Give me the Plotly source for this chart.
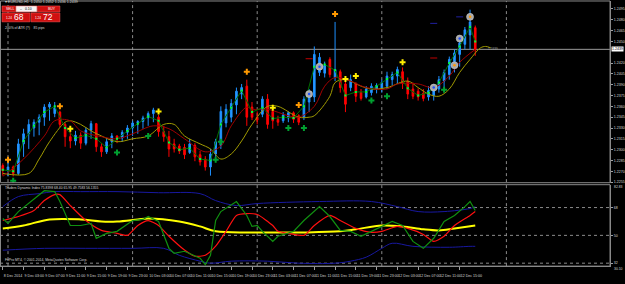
import plotly.graph_objects as go

W, H = 625, 284
def px(x): return x / W
def py(y): return 1 - y / H

# ---------------- data ----------------
bars = list(range(92))
open_ = [1.2278,1.2271,1.2276,1.2267,1.2308,1.2322,1.2330,1.2338,1.2345,1.2359,
         1.2350,1.2352,1.2335,1.2318,1.2312,1.2320,1.2309,1.2327,1.2336,1.2304,
         1.2297,1.2311,1.2319,1.2316,1.2324,1.2330,1.2337,1.2339,1.2344,1.2350,
         1.2345,1.2325,1.2318,1.2308,1.2305,1.2303,1.2296,1.2306,1.2293,1.2287,
         1.2276,1.2294,1.2306,1.2337,1.2345,1.2362,1.2377,1.2388,1.2359,1.2345,
         1.2349,1.2370,1.2353,1.2342,1.2340,1.2344,1.2351,1.2347,1.2345,1.2366,
         1.2373,1.2407,1.2406,1.2425,1.2400,1.2408,1.2391,1.2386,1.2392,1.2379,
         1.2373,1.2379,1.2384,1.2385,1.2388,1.2397,1.2402,1.2408,1.2395,1.2384,
         1.2381,1.2378,1.2373,1.2375,1.2384,1.2395,1.2404,1.2422,1.2432,1.2446,
         1.2459,1.2469]
high = [1.2281,1.2283,1.2278,1.2315,1.2329,1.2342,1.2342,1.2349,1.2363,1.2366,
        1.2366,1.2354,1.2337,1.2329,1.2326,1.2324,1.2331,1.2340,1.2337,1.2309,
        1.2316,1.2323,1.2320,1.2327,1.2334,1.2340,1.2341,1.2347,1.2353,1.2358,
        1.2348,1.2333,1.2326,1.2315,1.2308,1.2308,1.2315,1.2309,1.2298,1.2291,
        1.2301,1.2315,1.2360,1.2363,1.2370,1.2386,1.2391,1.2397,1.2366,1.2353,
        1.2374,1.2377,1.2356,1.2347,1.2352,1.2353,1.2353,1.2349,1.2374,1.2384,
        1.2443,1.2434,1.2422,1.2428,1.2477,1.2411,1.2400,1.2404,1.2393,1.2384,
        1.2388,1.2392,1.2392,1.2397,1.2408,1.2408,1.2415,1.2414,1.2400,1.2393,
        1.2385,1.2384,1.2388,1.2391,1.2402,1.2411,1.2429,1.2439,1.2452,1.2470,
        1.2494,1.2472]
low = [1.2264,1.2263,1.2263,1.2265,1.2290,1.2301,1.2318,1.2320,1.2333,1.2340,
       1.2345,1.2331,1.2304,1.2302,1.2306,1.2301,1.2306,1.2315,1.2297,1.2290,
       1.2294,1.2302,1.2309,1.2311,1.2315,1.2319,1.2322,1.2329,1.2333,1.2338,
       1.2318,1.2311,1.2290,1.2296,1.2294,1.2287,1.2294,1.2284,1.2278,1.2271,
       1.2264,1.2290,1.2301,1.2331,1.2338,1.2349,1.2370,1.2333,1.2341,1.2335,
       1.2345,1.2329,1.2329,1.2333,1.2337,1.2338,1.2337,1.2334,1.2341,1.2352,
       1.2366,1.2402,1.2400,1.2400,1.2395,1.2379,1.2352,1.2381,1.2366,1.2368,
       1.2371,1.2375,1.2378,1.2379,1.2384,1.2389,1.2391,1.2384,1.2370,1.2370,
       1.2368,1.2367,1.2368,1.2368,1.2379,1.2386,1.2397,1.2407,1.2415,1.2439,
       1.2439,1.2430]
close = [1.2271,1.2276,1.2267,1.2308,1.2322,1.2335,1.2338,1.2345,1.2359,1.2363,
         1.2358,1.2335,1.2318,1.2312,1.2320,1.2309,1.2327,1.2336,1.2304,1.2297,
         1.2311,1.2319,1.2316,1.2324,1.2330,1.2337,1.2339,1.2344,1.2350,1.2355,
         1.2325,1.2318,1.2301,1.2301,1.2298,1.2293,1.2308,1.2290,1.2283,1.2276,
         1.2294,1.2311,1.2353,1.2356,1.2364,1.2381,1.2386,1.2345,1.2345,1.2341,
         1.2370,1.2335,1.2340,1.2338,1.2348,1.2351,1.2342,1.2338,1.2370,1.2379,
         1.2432,1.2428,1.2417,1.2404,1.2411,1.2386,1.2363,1.2397,1.2374,1.2371,
         1.2384,1.2388,1.2389,1.2393,1.2402,1.2404,1.2411,1.2392,1.2377,1.2374,
         1.2373,1.2371,1.2382,1.2386,1.2397,1.2407,1.2425,1.2434,1.2448,1.2466,
         1.2477,1.2439]

red_ma_x = [0,4,8,10,13,15,19,22,25,29,32,35,39,42,44,47,48,51,55,57,60,62,64,67,70,74,76,80,83,86,88,91]
red_ma_y = [1.2263,1.2287,1.2319,1.2340,1.2340,1.2326,1.2318,1.2315,1.2322,1.2333,
            1.2329,1.2315,1.2297,1.2305,1.2333,1.2359,1.2356,1.2356,1.2347,1.2345,
            1.2360,1.2388,1.2400,1.2395,1.2386,1.2384,1.2391,1.2391,1.2386,1.2402,
            1.2421,1.2439]
olive_x = [0,5,7,9,12,13,15,17,19,22,25,28,31,33,35,38,40,42,44,46,48,51,53,57,59,
           60,63,64,66,69,71,74,78,80,82,84,86,88,90,92,93,94]
olive_y = [1.2267,1.2267,1.2287,1.2311,1.2338,1.2340,1.2335,1.2326,1.2319,1.2311,
           1.2315,1.2319,1.2335,1.2335,1.2319,1.2308,1.2301,1.2287,1.2294,1.2312,
           1.2335,1.2360,1.2360,1.2345,1.2345,1.2347,1.2374,1.2393,1.2397,1.2388,
           1.2384,1.2386,1.2395,1.2386,1.2377,1.2374,1.2384,1.2407,1.2425,1.2441,
           1.2443,1.2441]
green_ma_x = list(range(0, 91, 2)) + [91]
green_ma_y = [1.2272,1.2270,1.2312,1.2333,1.2352,1.2360,1.2330,1.2316,1.2320,1.2315,
              1.2303,1.2315,1.2326,1.2336,1.2346,1.2340,1.2310,1.2300,1.2302,1.2287,
              1.2285,1.2335,1.2358,1.2382,1.2352,1.2358,1.2343,1.2345,1.2344,1.2360,
              1.2415,1.2418,1.2410,1.2375,1.2380,1.2380,1.2388,1.2398,1.2407,1.2385,
              1.2375,1.2379,1.2393,1.2420,1.2443,1.2470,1.2450]

orange_x = [1, 11, 47, 57, 64]
orange_y = [1.2286, 1.2360, 1.2408, 1.2362, 1.2488]
yellow_x = [13, 30, 52, 66, 68, 77]
yellow_y = [1.2329, 1.2353, 1.2358, 1.2398, 1.2402, 1.2421]
green_sig_x = [2, 22, 28, 41, 42, 55, 58, 71, 74, 85]
green_sig_y = [1.2257, 1.2296, 1.2319, 1.2286, 1.2311, 1.2330, 1.2330, 1.2368, 1.2374, 1.2383]
circle_x = [59, 61, 83, 87, 88, 90]
circle_y = [1.2377, 1.2415, 1.2386, 1.2417, 1.2454, 1.2484]
circle_core = ["#1E50FF", "#1E50FF", "#1E50FF", "#FF9900", "#1E50FF", "#FF9900"]
dash_red_x = [59, 83]
dash_red_y = [1.2426, 1.2427]
dash_navy_x = [83, 88]
dash_navy_y = [1.2475, 1.2484]
bid_price = 1.2439

# Traders Dynamic Index
tdi_green_x = [0,1,3,6,8,10,11,13,15,17,18,20,22,25,27,28,30,32,33,35,38,39,40,41,42,
               45,47,48,49,50,52,53,56,58,61,63,65,67,69,71,73,75,77,79,81,83,85,87,89,90,91]
tdi_green_y = [60.9,57.7,65.4,73.8,78.9,78.3,71.9,56.4,56.4,57.7,48.1,51.3,52.6,59.6,60.3,
               62.2,59.0,41.6,38.4,39.7,35.2,31.0,37.1,59.6,65.4,71.9,62.9,55.8,56.4,52.6,
               46.1,49.4,52.6,59.6,68.6,62.2,53.2,52.6,49.4,52.6,55.8,59.0,56.4,46.1,41.6,
               48.1,59.0,62.9,68.6,71.9,66.1]
tdi_red_x = [0,3,6,8,10,11,13,16,19,22,24,26,28,30,32,35,37,39,41,43,45,47,49,52,53,55,
             58,60,63,65,68,71,73,76,78,81,83,85,87,90,91]
tdi_red_y = [59.6,62.2,66.1,72.5,76.4,76.4,69.3,59.6,53.2,51.3,50.0,56.4,59.6,56.4,49.4,
             40.5,36.5,37.1,43.0,52.6,62.9,64.1,63.5,56.4,52.6,51.3,50.0,56.4,62.9,59.6,
             54.5,52.0,52.6,55.8,54.5,50.6,46.1,49.4,56.4,62.9,65.4]
tdi_yellow_x = [0,4,9,15,19,22,26,28,34,38,41,49,58,65,68,73,77,81,84,87,91]
tdi_yellow_y = [54.5,56.4,60.3,60.3,59.0,59.0,60.3,60.9,59.0,55.8,52.6,51.9,51.9,52.6,
                53.9,56.4,55.8,53.9,53.2,54.5,56.4]
tdi_up_x = [0,3,7,10,15,22,30,38,41,45,49,61,71,76,80,85,90,91]
tdi_up_y = [68.6,75.1,77.0,78.3,78.3,78.3,77.6,77.0,72.5,69.3,70.6,71.9,71.9,68.6,65.4,
            65.4,67.4,68.6]
tdi_lo_x = [0,8,16,25,31,34,38,40,44,51,57,64,67,70,73,75,79,86,90,91]
tdi_lo_y = [40.4,41.6,41.6,41.6,41.6,37.1,33.3,32.0,33.3,33.3,32.0,32.0,33.3,35.9,41.6,
            44.9,42.9,42.3,42.9,42.9]
tdi_levels = [68, 50, 32]

price_tick_vals = [1.2495,1.2480,1.2465,1.2450,1.2420,1.2405,1.2390,1.2375,1.2360,
                   1.2345,1.2330,1.2315,1.2300,1.2285,1.2270,1.2255]
price_tick_text = ["1.2495","1.2480","1.2465","1.2450","1.2420","1.2405","1.2390","1.2375",
                   "1.2360","1.2345","1.2330","1.2315","1.2300","1.2285","1.2270","1.2255"]
time_tick_vals = [0,4,8,12,16,20,24,28,32,36,40,44,48,52,56,60,64,68,72,76,80,84,88]
time_tick_text = ["8 Dec 2014","9 Dec 03:00","9 Dec 07:00","9 Dec 11:00","9 Dec 15:00",
                  "9 Dec 19:00","9 Dec 23:00","10 Dec 03:00","10 Dec 07:00","10 Dec 11:00",
                  "10 Dec 15:00","10 Dec 19:00","10 Dec 23:00","11 Dec 03:00","11 Dec 07:00",
                  "11 Dec 11:00","11 Dec 15:00","11 Dec 19:00","11 Dec 23:00","12 Dec 03:00",
                  "12 Dec 07:00","12 Dec 11:00","12 Dec 15:00"]
day_separators = [1, 25, 49, 73, 97]

# ---------------- figure ----------------
XR = [-0.54, 116.96]
XD = 611 / W
FONT = "Liberation Sans"
TXT = "#D8D8D8"

fig = go.Figure()
fig.add_trace(go.Candlestick(
    x=bars, open=open_, high=high, low=low, close=close,
    increasing=dict(line=dict(color="#1E90FF", width=1), fillcolor="#2A9BFF"),
    decreasing=dict(line=dict(color="#FF0000", width=1), fillcolor="#FF0000"),
    whiskerwidth=0, xaxis="x", yaxis="y", hoverinfo="skip", showlegend=False))

fig.add_trace(go.Scatter(x=olive_x, y=olive_y, mode="lines", line=dict(color="#A09A00", width=1, shape="spline"),
                         xaxis="x", yaxis="y", hoverinfo="skip"))
fig.add_trace(go.Scatter(x=red_ma_x, y=red_ma_y, mode="lines", line=dict(color="#A00000", width=1, shape="spline"),
                         xaxis="x", yaxis="y", hoverinfo="skip"))
fig.add_trace(go.Scatter(x=green_ma_x, y=green_ma_y, mode="lines+markers",
                         line=dict(color="#007000", width=1),
                         marker=dict(symbol="square", size=2, color="#00FF40"),
                         xaxis="x", yaxis="y", hoverinfo="skip"))
fig.add_trace(go.Scatter(x=dash_red_x, y=dash_red_y, mode="markers",
                         marker=dict(symbol="line-ew", size=5, line=dict(color="#C00000", width=1)),
                         xaxis="x", yaxis="y", hoverinfo="skip"))
fig.add_trace(go.Scatter(x=dash_navy_x, y=dash_navy_y, mode="markers",
                         marker=dict(symbol="line-ew", size=5, line=dict(color="#2020A0", width=1)),
                         xaxis="x", yaxis="y", hoverinfo="skip"))
fig.add_trace(go.Scatter(x=orange_x, y=orange_y, mode="markers",
                         marker=dict(symbol="cross", size=5, color="#FF9900"),
                         xaxis="x", yaxis="y", hoverinfo="skip"))
fig.add_trace(go.Scatter(x=yellow_x, y=yellow_y, mode="markers",
                         marker=dict(symbol="cross", size=5, color="#FFEE00"),
                         xaxis="x", yaxis="y", hoverinfo="skip"))
fig.add_trace(go.Scatter(x=green_sig_x, y=green_sig_y, mode="markers",
                         marker=dict(symbol="cross", size=5, color="#00A030"),
                         xaxis="x", yaxis="y", hoverinfo="skip"))
fig.add_trace(go.Scatter(x=circle_x, y=circle_y, mode="markers",
                         marker=dict(symbol="circle", size=7, color="#A8A8A8", line=dict(color="#D8D8D8", width=0.5)),
                         xaxis="x", yaxis="y", hoverinfo="skip"))
fig.add_trace(go.Scatter(x=circle_x, y=circle_y, mode="markers",
                         marker=dict(symbol="circle", size=2.5, color=circle_core),
                         xaxis="x", yaxis="y", hoverinfo="skip"))

# TDI panel
fig.add_trace(go.Scatter(x=tdi_up_x, y=tdi_up_y, mode="lines", line=dict(color="#1818A0", width=1, shape="spline"),
                         xaxis="x", yaxis="y2", hoverinfo="skip"))
fig.add_trace(go.Scatter(x=tdi_lo_x, y=tdi_lo_y, mode="lines", line=dict(color="#1818A0", width=1, shape="spline"),
                         xaxis="x", yaxis="y2", hoverinfo="skip"))
fig.add_trace(go.Scatter(x=tdi_yellow_x, y=tdi_yellow_y, mode="lines", line=dict(color="#FFFF00", width=2, shape="spline"),
                         xaxis="x", yaxis="y2", hoverinfo="skip"))
fig.add_trace(go.Scatter(x=tdi_red_x, y=tdi_red_y, mode="lines", line=dict(color="#FF1010", width=1.2, shape="spline", smoothing=0.6),
                         xaxis="x", yaxis="y2", hoverinfo="skip"))
fig.add_trace(go.Scatter(x=tdi_green_x, y=tdi_green_y, mode="lines", line=dict(color="#109010", width=1.2),
                         xaxis="x", yaxis="y2", hoverinfo="skip"))

shapes = []
for d in day_separators:
    shapes.append(dict(type="line", xref="x", yref="paper", x0=d, x1=d, y0=py(268), y1=py(1),
                       line=dict(color="#8A8A8A", width=1, dash="dot"), layer="below"))
for lv in tdi_levels:
    shapes.append(dict(type="line", xref="paper", yref="y2", x0=0, x1=XD, y0=lv, y1=lv,
                       line=dict(color="#8A8A8A", width=1, dash="dot"), layer="below"))
shapes.append(dict(type="line", xref="paper", yref="y", x0=0, x1=XD, y0=bid_price, y1=bid_price,
                   line=dict(color="#9A9A9A", width=1), layer="below"))
shapes.append(dict(type="rect", xref="paper", yref="paper", x0=px(0.5), x1=XD, y0=py(184), y1=py(1),
                   line=dict(color="#8A8A8A", width=1)))
shapes.append(dict(type="rect", xref="paper", yref="paper", x0=px(0.5), x1=XD, y0=py(268), y1=py(186),
                   line=dict(color="#8A8A8A", width=1)))

def box(x0, x1, y0, y1, fill):
    shapes.append(dict(type="rect", xref="paper", yref="paper", x0=px(x0), x1=px(x1), y0=py(y1), y1=py(y0),
                       fillcolor=fill, line=dict(color="#FF6060", width=0.5)))
box(2, 15.5, 6, 12, "#D01010")
box(16, 37, 6, 12, "#F4F4F4")
box(37.5, 60, 6, 12, "#D01010")
box(2, 30, 13, 22, "#D01010")
box(31, 60, 13, 22, "#D01010")

ann = []
def txt(x, y, s, size=3.6, color=TXT, anchor="left", bg=None):
    d = dict(x=px(x), y=py(y), xref="paper", yref="paper", text=s, showarrow=False,
             xanchor=anchor, yanchor="middle", font=dict(family=FONT, size=size, color=color))
    if bg:
        d["bgcolor"] = bg
    ann.append(d)

txt(3, 2.5, "▾ EURUSD,H1  1.2450 1.2452 1.2436 1.2439")
txt(4, 9, "SELL", 3.4, "#FFFFFF")
txt(18, 9, "–", 3.4, "#000000")
txt(34, 9, "0.10", 3.4, "#000000", "right")
txt(46, 9, "BUY", 3.4, "#FFFFFF")
txt(4, 18.5, "1.24", 3.0, "#FFFFFF")
txt(12, 17.5, "68", 8.5, "#FFFFFF")
txt(33, 18.5, "1.24", 3.0, "#FFFFFF")
txt(41, 17.5, "72", 8.5, "#FFFFFF")
txt(3, 28, "200% of ATR (?)    85 pips", 3.4)
txt(3, 189.5, "Traders Dynamic Index 75.8398 68.40 65.95 49.7583 56.1355", 3.4)
txt(3, 262, "FxPro MT4, © 2001-2014, MetaQuotes Software Corp.", 3.4)
txt(613, 188.5, "82.83", 3.4)
txt(613, 270.5, "30.10", 3.4)
ann.append(dict(x=px(612), y=bid_price, xref="paper", yref="y", text="1.2439", showarrow=False,
                xanchor="left", yanchor="middle", bgcolor="#FFFFFF",
                font=dict(family=FONT, size=3.6, color="#000000"), borderpad=0))
ann.append(dict(x=93, y=bid_price, xref="x", yref="y", text="1.2439", showarrow=False,
                xanchor="left", yanchor="middle", font=dict(family=FONT, size=3.2, color="#9A9A9A")))

fig.update_layout(
    width=W, height=H, margin=dict(l=0, r=0, t=0, b=0),
    paper_bgcolor="#000000", plot_bgcolor="#000000",
    showlegend=False, hovermode=False, boxgap=0.55,
    shapes=shapes, annotations=ann,
    xaxis=dict(domain=[0, XD], range=XR, anchor="y2", showgrid=False, zeroline=False,
               tickvals=time_tick_vals, ticktext=time_tick_text, ticklabelposition="outside right",
               tickangle=0, ticks="outside", ticklen=3, tickcolor="#A0A0A0", ticklabelstandoff=6,
               tickfont=dict(family=FONT, size=3.6, color=TXT),
               showline=True, linecolor="#8A8A8A", rangeslider=dict(visible=False)),
    yaxis=dict(domain=[py(184), py(1)], range=[1.22542, 1.25060], anchor="x", side="right",
               showgrid=False, zeroline=False, tickvals=price_tick_vals, ticktext=price_tick_text,
               ticks="outside", ticklen=2, tickcolor="#A0A0A0",
               tickfont=dict(family=FONT, size=3.6, color=TXT), showline=True, linecolor="#8A8A8A"),
    yaxis2=dict(domain=[py(268), py(186)], range=[30.1, 82.8], anchor="x", side="right",
                showgrid=False, zeroline=False, tickvals=tdi_levels, ticktext=["68", "50", "32"],
                ticks="outside", ticklen=2, tickcolor="#A0A0A0",
                tickfont=dict(family=FONT, size=3.6, color=TXT), showline=True, linecolor="#8A8A8A"),
)

fig.write_html("out.html")
